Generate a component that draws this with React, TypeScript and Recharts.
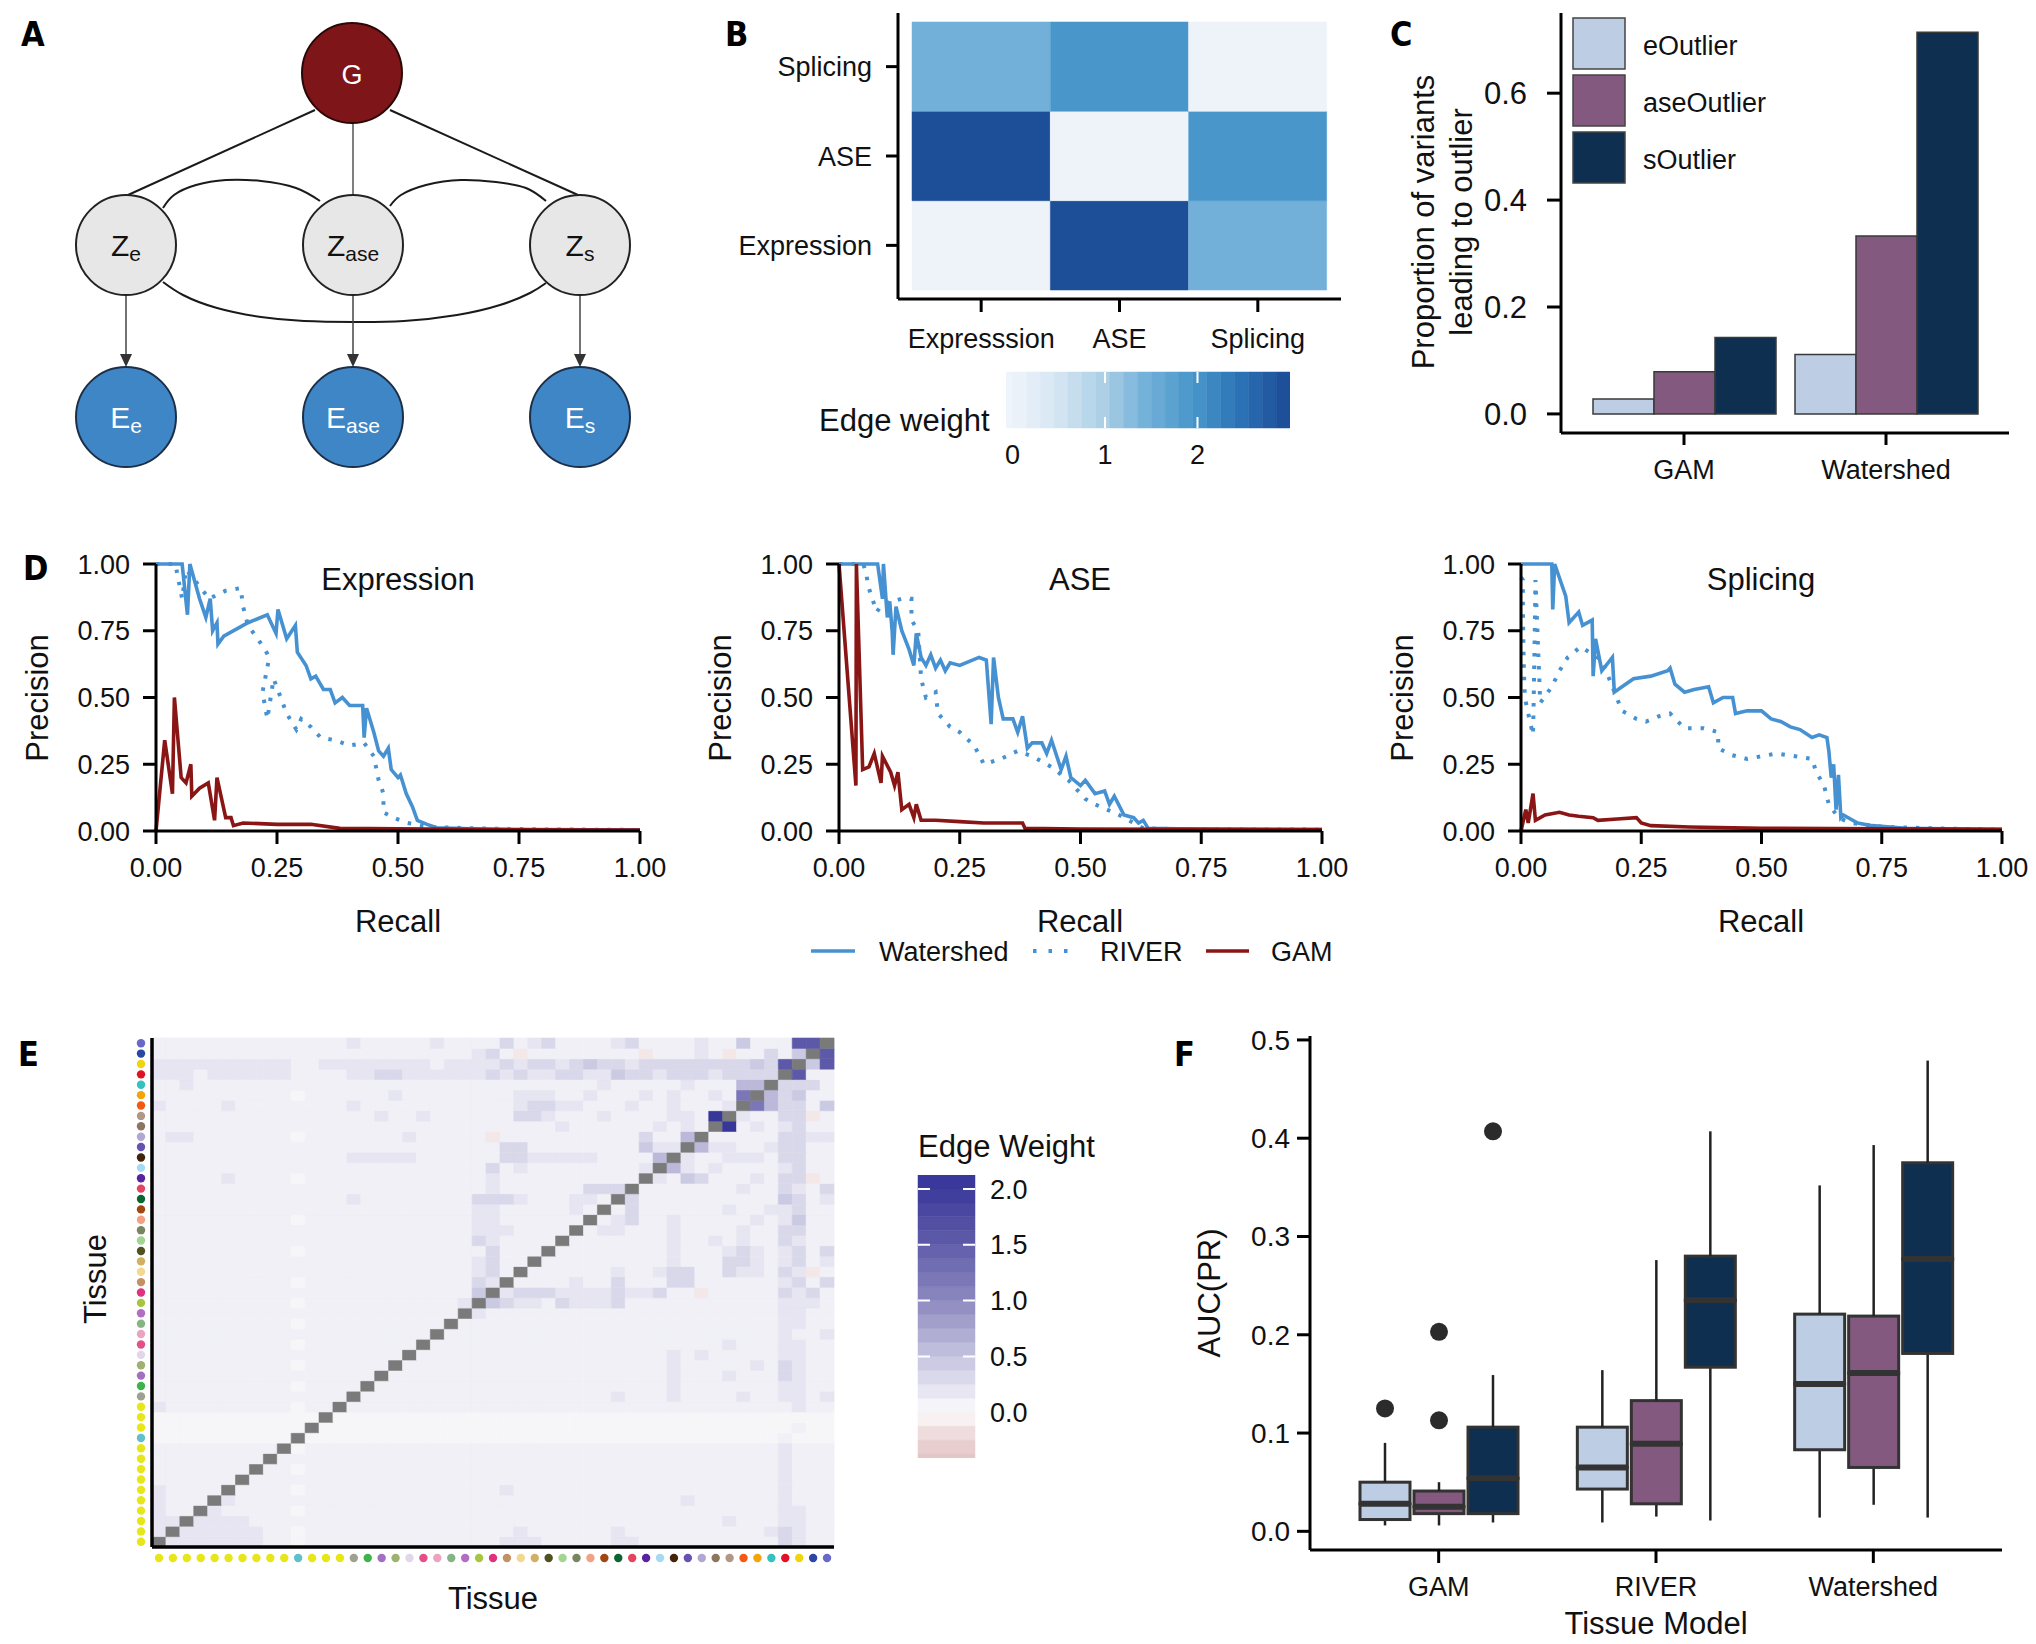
import React from 'react';
import {
  ComposedChart, LineChart, BarChart, Line, Bar, Cell, Scatter,
  XAxis, YAxis, ReferenceLine,
} from 'recharts';

const FONT = '"Liberation Sans", Arial, Helvetica, sans-serif';
const LETTER_FONT = '"Liberation Sans Narrow", "DejaVu Sans Condensed", "Liberation Sans", sans-serif';
const INK = '#111111';

type Pt = { x: number; y: number };

// ---------------- Panel A : graphical model ----------------
const graphNodes = [
  { x: 352, y: 73, main: 'G', sub: '', kind: 'g' },
  { x: 126, y: 245, main: 'Z', sub: 'e', kind: 'z' },
  { x: 353, y: 245, main: 'Z', sub: 'ase', kind: 'z' },
  { x: 580, y: 245, main: 'Z', sub: 's', kind: 'z' },
  { x: 126, y: 417, main: 'E', sub: 'e', kind: 'e' },
  { x: 353, y: 417, main: 'E', sub: 'ase', kind: 'e' },
  { x: 580, y: 417, main: 'E', sub: 's', kind: 'e' },
];
const nodeLooks: Record<string, { fill: string; stroke: string; text: string }> = {
  g: { fill: '#7e1518', stroke: '#2a0808', text: '#ffffff' },
  z: { fill: '#e7e7e7', stroke: '#222222', text: '#111111' },
  e: { fill: '#3f86c6', stroke: '#1d2f48', text: '#ffffff' },
};
const edgeGZe: Pt[] = [{ x: 315, y: 110 }, { x: 128, y: 195 }];
const edgeGZs: Pt[] = [{ x: 390, y: 110 }, { x: 578, y: 195 }];
const edgeGZase: Pt[] = [{ x: 353, y: 123 }, { x: 353, y: 195 }];
const arcZeZase: Pt[] = [
  { x: 163, y: 208 }, { x: 174, y: 195 }, { x: 196, y: 185 }, { x: 226, y: 180 },
  { x: 261, y: 181 }, { x: 296, y: 188 }, { x: 320, y: 201 },
];
const arcZaseZs: Pt[] = [
  { x: 390, y: 206 }, { x: 401, y: 195 }, { x: 426, y: 185 }, { x: 461, y: 180 },
  { x: 496, y: 182 }, { x: 526, y: 188 }, { x: 546, y: 201 },
];
const arcZeZs: Pt[] = [
  { x: 163, y: 282 }, { x: 183, y: 295 }, { x: 217, y: 308 }, { x: 261, y: 317 },
  { x: 304, y: 321 }, { x: 354, y: 322 }, { x: 404, y: 321 }, { x: 457, y: 315 },
  { x: 500, y: 305 }, { x: 530, y: 293 }, { x: 546, y: 283 },
];
const arrowShafts: Pt[][] = [
  [{ x: 126, y: 295 }, { x: 126, y: 356 }],
  [{ x: 353, y: 295 }, { x: 353, y: 356 }],
  [{ x: 580, y: 295 }, { x: 580, y: 356 }],
];
const arrowTips: Pt[] = [{ x: 126, y: 367 }, { x: 353, y: 367 }, { x: 580, y: 367 }];

const NodeShape = (p: any) => {
  const look = nodeLooks[p.payload.kind];
  const isG = p.payload.kind === 'g';
  return (
    <g>
      <circle cx={p.cx} cy={p.cy} r={50} fill={look.fill} stroke={look.stroke} strokeWidth={2} />
      <text x={p.cx} y={p.cy + 11} textAnchor="middle" fontFamily={FONT} fill={look.text}>
        <tspan fontSize={isG ? 27 : 30}>{p.payload.main}</tspan>
        {p.payload.sub ? <tspan fontSize={21} dy={5}>{p.payload.sub}</tspan> : null}
      </text>
    </g>
  );
};
const ArrowTip = (p: any) => (
  <polygon points={`${p.cx - 6},${p.cy - 13} ${p.cx + 6},${p.cy - 13} ${p.cx},${p.cy}`} fill="#333" />
);

function PanelA() {
  const lineProps = { dataKey: 'y', dot: false, activeDot: false, isAnimationActive: false } as any;
  return (
    <div style={{ position: 'absolute', left: 0, top: 0 }}>
      <ComposedChart width={680} height={480} margin={{ top: 0, right: 0, bottom: 0, left: 0 }}>
        <XAxis type="number" dataKey="x" domain={[0, 680]} hide width={0} height={0} />
        <YAxis type="number" dataKey="y" domain={[0, 480]} reversed hide width={0} />
        <Line {...lineProps} data={edgeGZe} stroke="#1a1a1a" strokeWidth={2} />
        <Line {...lineProps} data={edgeGZs} stroke="#1a1a1a" strokeWidth={2} />
        <Line {...lineProps} data={edgeGZase} stroke="#555" strokeWidth={1.5} />
        <Line {...lineProps} data={arcZeZase} type="natural" stroke="#1a1a1a" strokeWidth={2} />
        <Line {...lineProps} data={arcZaseZs} type="natural" stroke="#1a1a1a" strokeWidth={2} />
        <Line {...lineProps} data={arcZeZs} type="natural" stroke="#1a1a1a" strokeWidth={2} />
        {arrowShafts.map((s, i) => (
          <Line key={i} {...lineProps} data={s} stroke="#444" strokeWidth={1.5} />
        ))}
        <Scatter data={arrowTips} dataKey="y" shape={(p: any) => <ArrowTip {...p} />} isAnimationActive={false} />
        <Scatter data={graphNodes} dataKey="y" shape={(p: any) => <NodeShape {...p} />} isAnimationActive={false} />
      </ComposedChart>
    </div>
  );
}

// ---------------- colour helpers ----------------
function hexRgb(h: string) {
  return [parseInt(h.slice(1, 3), 16), parseInt(h.slice(3, 5), 16), parseInt(h.slice(5, 7), 16)];
}
function rampColor(stops: [number, string][], v: number) {
  if (v <= stops[0][0]) return stops[0][1];
  for (let i = 1; i < stops.length; i++) {
    if (v <= stops[i][0]) {
      const [a, ca] = stops[i - 1];
      const [b, cb] = stops[i];
      const t = (v - a) / (b - a);
      const A = hexRgb(ca), B = hexRgb(cb);
      const c = A.map((x, k) => Math.round(x + (B[k] - x) * t));
      return `rgb(${c[0]},${c[1]},${c[2]})`;
    }
  }
  return stops[stops.length - 1][1];
}

// colour-bar bins: [from, to] pairs on each side of zero
function legendBins(lo: number, hi: number, step: number) {
  const neg: number[][] = [];
  for (let a = 0; a > lo + 1e-9; a -= step) neg.push([a, Math.max(a - step, lo)]);
  const pos: number[][] = [];
  for (let a = 0; a < hi - 1e-9; a += step) pos.push([a, Math.min(a + step, hi)]);
  return { neg, pos };
}

// ---------------- Panel B : edge weight heatmap ----------------
const bCols = ['Expresssion', 'ASE', 'Splicing'];
const bRows = ['Expression', 'ASE', 'Splicing'];
const bWeights = [
  [0, 2.95, 1.45],
  [2.95, 0, 1.95],
  [1.45, 1.95, 0],
];
const bluesStops: [number, string][] = [
  [-0.1, '#f0f5fb'], [0, '#eef3fa'], [0.5, '#d4e5f3'], [1, '#abcfe6'], [1.45, '#72b0d9'],
  [2, '#4594c8'], [2.5, '#2a6fb4'], [3, '#1b4b94'],
];
const bLegendRange: [number, number] = [-0.07, 3.0];
const bLegendTicks = [0, 1, 2];

function PanelB() {
  const data = bCols.map((c) => ({ col: c, r0: 1, r1: 1, r2: 1 }));
  return (
    <div style={{ position: 'absolute', left: 700, top: 0 }}>
      <BarChart width={660} height={360} data={data} margin={{ top: 13, right: 19, bottom: 0, left: 0 }}
        barCategoryGap={0} barGap={0}>
        <XAxis dataKey="col" type="category" height={61} padding={{ left: 14, right: 14 }}
          axisLine={{ stroke: '#000', strokeWidth: 3 }} tickLine={{ stroke: '#000', strokeWidth: 3 }}
          tickSize={13} tickMargin={17} tick={{ fontSize: 27, fill: INK, fontFamily: FONT }} interval={0} />
        <YAxis type="number" domain={[-0.1, 3.1]} ticks={[0.5, 1.5, 2.5]} width={198}
          tickFormatter={(v: number) => bRows[Math.floor(v)]}
          axisLine={{ stroke: '#000', strokeWidth: 3 }} tickLine={{ stroke: '#000', strokeWidth: 3 }}
          tickSize={12} tickMargin={14} tick={{ fontSize: 27, fill: INK, fontFamily: FONT }} interval={0} />
        {[0, 1, 2].map((ri) => (
          <Bar key={ri} dataKey={'r' + ri} stackId="b" isAnimationActive={false}>
            {bCols.map((_, ci) => {
              const f = rampColor(bluesStops, bWeights[ri][ci]);
              return <Cell key={ci} fill={f} stroke={f} strokeWidth={0.5} />;
            })}
          </Bar>
        ))}
      </BarChart>
    </div>
  );
}

function PanelBLegend() {
  const { neg, pos } = legendBins(bLegendRange[0], bLegendRange[1], 0.15);
  const row: any = { k: 'bar' };
  neg.forEach(([a, b], i) => { row['n' + i] = b - a; });
  pos.forEach(([a, b], i) => { row['p' + i] = b - a; });
  return (
    <div style={{ position: 'absolute', left: 990, top: 340 }}>
      <BarChart layout="vertical" width={320} height={140} data={[row]} stackOffset="sign"
        margin={{ top: 32, right: 20, bottom: 0, left: 16 }} barCategoryGap={0}>
        <XAxis type="number" domain={bLegendRange} ticks={bLegendTicks} height={52} allowDataOverflow
          axisLine={false} tickLine={false} tickSize={0} tickMargin={17}
          tick={{ fontSize: 27, fill: INK, fontFamily: FONT }} interval={0} />
        <YAxis type="category" dataKey="k" hide width={0} />
        {neg.map(([a, b], i) => {
          const f = rampColor(bluesStops, (a + b) / 2);
          return <Bar key={'n' + i} dataKey={'n' + i} stackId="c" fill={f} stroke={f} strokeWidth={0.5} isAnimationActive={false} />;
        })}
        {pos.map(([a, b], i) => {
          const f = rampColor(bluesStops, (a + b) / 2);
          return <Bar key={'p' + i} dataKey={'p' + i} stackId="c" fill={f} stroke={f} strokeWidth={0.5} isAnimationActive={false} />;
        })}
        {[1, 2].map((t) => (
          <ReferenceLine key={t} x={t} stroke="#fff" strokeWidth={2} strokeDasharray="11 34 11" />
        ))}
      </BarChart>
    </div>
  );
}

// ---------------- Panel C : proportion of variants ----------------
const cModels = ['GAM', 'Watershed'];
const cEOutlier = [0.028, 0.111];
const cAseOutlier = [0.079, 0.333];
const cSOutlier = [0.143, 0.714];
const outlierColors = { e: '#bdcde3', ase: '#83597f', s: '#0e2f50' };

function PanelC() {
  const data = cModels.map((m, i) => ({ m, e: cEOutlier[i], ase: cAseOutlier[i], s: cSOutlier[i] }));
  return (
    <div style={{ position: 'absolute', left: 1360, top: 0 }}>
      <BarChart width={676} height={500} data={data} margin={{ top: 13, right: 27, bottom: 0, left: 0 }}
        barSize={61} barGap={0}>
        <XAxis dataKey="m" type="category" height={67} padding={{ left: 22, right: 22 }}
          axisLine={{ stroke: '#000', strokeWidth: 3 }} tickLine={{ stroke: '#000', strokeWidth: 3 }}
          tickSize={12} tickMargin={15} tick={{ fontSize: 27, fill: INK, fontFamily: FONT }} interval={0} />
        <YAxis type="number" domain={[-0.0357, 0.75]} ticks={[0, 0.2, 0.4, 0.6]} width={201}
          tickFormatter={(v: number) => v.toFixed(1)} allowDataOverflow
          axisLine={{ stroke: '#000', strokeWidth: 3 }} tickLine={{ stroke: '#000', strokeWidth: 3 }}
          tickSize={14} tickMargin={20} tick={{ fontSize: 31, fill: INK, fontFamily: FONT }} interval={0} />
        <Bar dataKey="e" fill={outlierColors.e} stroke="#3a3a3a" strokeWidth={1.5} isAnimationActive={false} />
        <Bar dataKey="ase" fill={outlierColors.ase} stroke="#3a3a3a" strokeWidth={1.5} isAnimationActive={false} />
        <Bar dataKey="s" fill={outlierColors.s} stroke="#3a3a3a" strokeWidth={1.5} isAnimationActive={false} />
      </BarChart>
    </div>
  );
}

// ---------------- Panel D : precision-recall curves ----------------
const exprWatershed = [[0,1],[0.054,1],[0.065,0.81],[0.07,1],[0.09,0.87],[0.103,0.8],[0.112,0.87],[0.117,0.75],[0.126,0.78],[0.128,0.7],[0.14,0.73],[0.19,0.78],[0.23,0.81],[0.248,0.74],[0.252,0.83],[0.27,0.72],[0.288,0.77],[0.292,0.67],[0.31,0.62],[0.32,0.57],[0.33,0.58],[0.346,0.53],[0.36,0.53],[0.37,0.48],[0.385,0.5],[0.4,0.47],[0.427,0.47],[0.43,0.35],[0.435,0.46],[0.45,0.37],[0.46,0.3],[0.47,0.28],[0.48,0.31],[0.486,0.23],[0.5,0.2],[0.505,0.21],[0.517,0.14],[0.53,0.09],[0.54,0.04],[0.56,0.025],[0.58,0.012],[0.65,0.008],[0.8,0.005],[1,0.004]];
const exprRiver = [[0,1],[0.04,1],[0.054,0.87],[0.062,0.98],[0.11,0.87],[0.144,0.9],[0.175,0.91],[0.18,0.84],[0.19,0.77],[0.21,0.72],[0.225,0.68],[0.234,0.65],[0.22,0.52],[0.23,0.42],[0.243,0.57],[0.27,0.44],[0.29,0.38],[0.3,0.42],[0.32,0.39],[0.34,0.35],[0.37,0.34],[0.4,0.32],[0.43,0.33],[0.45,0.28],[0.46,0.19],[0.47,0.14],[0.47,0.07],[0.49,0.05],[0.52,0.03],[0.56,0.016],[0.65,0.01],[0.8,0.006],[1,0.004]];
const exprGam = [[0,0],[0.018,0.34],[0.034,0.14],[0.038,0.5],[0.052,0.2],[0.062,0.18],[0.072,0.25],[0.074,0.13],[0.09,0.16],[0.108,0.18],[0.121,0.04],[0.126,0.2],[0.144,0.05],[0.155,0.05],[0.16,0.02],[0.18,0.03],[0.25,0.025],[0.32,0.025],[0.38,0.01],[0.5,0.008],[0.7,0.005],[1,0.004]];

const aseWatershed = [[0,1],[0.08,1],[0.09,0.87],[0.092,1],[0.1,0.8],[0.105,0.86],[0.11,0.75],[0.112,0.66],[0.118,0.84],[0.13,0.75],[0.145,0.68],[0.155,0.62],[0.16,0.74],[0.17,0.65],[0.18,0.62],[0.19,0.66],[0.2,0.61],[0.21,0.64],[0.22,0.6],[0.23,0.63],[0.25,0.62],[0.29,0.65],[0.305,0.64],[0.315,0.4],[0.32,0.65],[0.33,0.5],[0.34,0.42],[0.36,0.42],[0.37,0.37],[0.38,0.43],[0.39,0.31],[0.4,0.33],[0.42,0.33],[0.43,0.29],[0.44,0.34],[0.46,0.23],[0.47,0.28],[0.48,0.2],[0.5,0.17],[0.51,0.19],[0.53,0.14],[0.55,0.15],[0.56,0.1],[0.57,0.13],[0.59,0.06],[0.61,0.05],[0.62,0.03],[0.63,0.04],[0.64,0.01],[0.7,0.008],[1,0.005]];
const aseRiver = [[0,1],[0.05,1],[0.056,0.97],[0.06,0.92],[0.078,0.82],[0.09,0.85],[0.13,0.87],[0.15,0.87],[0.15,0.79],[0.164,0.75],[0.17,0.57],[0.18,0.5],[0.2,0.52],[0.205,0.44],[0.23,0.39],[0.25,0.37],[0.28,0.32],[0.3,0.25],[0.335,0.27],[0.37,0.3],[0.4,0.28],[0.44,0.24],[0.475,0.19],[0.51,0.12],[0.53,0.1],[0.58,0.06],[0.61,0.03],[0.63,0.01],[0.7,0.007],[1,0.005]];
const aseGam = [[0,1],[0.035,0.17],[0.036,1],[0.049,0.23],[0.062,0.24],[0.073,0.29],[0.087,0.18],[0.09,0.28],[0.107,0.22],[0.115,0.17],[0.122,0.22],[0.13,0.08],[0.145,0.1],[0.155,0.05],[0.16,0.1],[0.17,0.04],[0.2,0.04],[0.25,0.035],[0.3,0.03],[0.38,0.03],[0.385,0.01],[0.5,0.007],[1,0.005]];

const splWatershed = [[0,1],[0.064,1],[0.066,0.83],[0.07,1],[0.093,0.88],[0.1,0.78],[0.12,0.82],[0.128,0.77],[0.148,0.79],[0.15,0.58],[0.155,0.72],[0.168,0.6],[0.19,0.65],[0.194,0.52],[0.21,0.54],[0.234,0.57],[0.27,0.58],[0.305,0.6],[0.31,0.61],[0.32,0.55],[0.34,0.52],[0.36,0.53],[0.39,0.54],[0.4,0.48],[0.42,0.5],[0.44,0.5],[0.446,0.44],[0.47,0.45],[0.5,0.45],[0.52,0.42],[0.54,0.41],[0.56,0.39],[0.58,0.38],[0.605,0.35],[0.62,0.36],[0.636,0.35],[0.64,0.3],[0.645,0.2],[0.65,0.25],[0.655,0.08],[0.66,0.21],[0.665,0.05],[0.67,0.06],[0.7,0.03],[0.73,0.02],[0.8,0.01],[1,0.005]];
const splRiver = [[0,0.95],[0.004,0.94],[0.004,0.82],[0.005,0.7],[0.006,0.6],[0.008,0.5],[0.015,0.44],[0.025,0.36],[0.026,0.45],[0.027,0.56],[0.028,0.68],[0.029,0.8],[0.03,0.94],[0.04,0.48],[0.064,0.54],[0.08,0.6],[0.097,0.65],[0.124,0.69],[0.168,0.64],[0.19,0.54],[0.21,0.45],[0.24,0.42],[0.26,0.41],[0.287,0.43],[0.31,0.44],[0.34,0.385],[0.38,0.385],[0.41,0.37],[0.41,0.31],[0.437,0.285],[0.47,0.27],[0.5,0.28],[0.53,0.29],[0.57,0.28],[0.605,0.27],[0.614,0.22],[0.63,0.17],[0.64,0.1],[0.66,0.05],[0.685,0.03],[0.75,0.016],[0.85,0.01],[1,0.005]];
const splGam = [[0,0],[0.01,0.08],[0.015,0.03],[0.025,0.14],[0.03,0.04],[0.05,0.06],[0.08,0.07],[0.1,0.06],[0.12,0.055],[0.15,0.05],[0.16,0.04],[0.2,0.045],[0.24,0.05],[0.25,0.03],[0.27,0.02],[0.35,0.015],[0.5,0.01],[0.75,0.008],[1,0.006]];

const prTicks = [0, 0.25, 0.5, 0.75, 1];
const WATERSHED_BLUE = '#4691d2';
const GAM_RED = '#8a1515';

function toPts(a: number[][]) { return a.map(([r, p]) => ({ r, p })); }

function PRPanel(props: { left: number; width: number; right: number; w: number[][]; rv: number[][]; g: number[][] }) {
  const ax = { stroke: '#000', strokeWidth: 3 };
  return (
    <div style={{ position: 'absolute', left: props.left, top: 540 }}>
      <LineChart width={props.width} height={460} margin={{ top: 24, right: props.right, bottom: 0, left: 0 }}>
        <XAxis type="number" dataKey="r" domain={[0, 1]} ticks={prTicks} height={169}
          tickFormatter={(v: number) => v.toFixed(2)} axisLine={ax} tickLine={ax} tickSize={13} tickMargin={14}
          tick={{ fontSize: 27, fill: INK, fontFamily: FONT }} interval={0} />
        <YAxis type="number" domain={[0, 1]} ticks={prTicks} width={156}
          tickFormatter={(v: number) => v.toFixed(2)} axisLine={ax} tickLine={ax} tickSize={13} tickMargin={13}
          tick={{ fontSize: 27, fill: INK, fontFamily: FONT }} interval={0} />
        <Line data={toPts(props.w)} dataKey="p" stroke={WATERSHED_BLUE} strokeWidth={3.6} dot={false} activeDot={false} isAnimationActive={false} />
        <Line data={toPts(props.rv)} dataKey="p" stroke={WATERSHED_BLUE} strokeWidth={4} strokeDasharray="3.5 9" dot={false} activeDot={false} isAnimationActive={false} />
        <Line data={toPts(props.g)} dataKey="p" stroke={GAM_RED} strokeWidth={3.6} dot={false} activeDot={false} isAnimationActive={false} />
      </LineChart>
    </div>
  );
}

// ---------------- Panel E : tissue edge weights ----------------
const tissueColors = [
  '#e6e619', '#e6e619', '#e6e619', '#e6e619', '#e6e619', '#e6e619', '#e6e619', '#e6e619', '#e6e619', '#e6e619',
  '#5fc0cc', '#e6e619', '#e6e619', '#e6e619', '#a0a090', '#3cb44b', '#a36fc0', '#9fb070', '#e2d6ea', '#e2508a',
  '#eba3c2', '#86b484', '#b26ec2', '#a6c640', '#e0307e', '#c39264', '#f2d98f', '#d2b063', '#4f5220', '#a4d492',
  '#778660', '#f2a283', '#a14612', '#0b6530', '#e3445f', '#5a22a0', '#a6daf2', '#43230a', '#6652b2', '#b2a6d2',
  '#8c7660', '#b09888', '#f25a14', '#f2a40a', '#33c2bf', '#e01226', '#f0d40c', '#2a47a3', '#6868c8',
];
// upper-left triangle, rows 49 (top) .. 2, columns 1..row-1
const edgeUpperRows = [
  '11111111111111' + '2111112111' + '131231111231111211411188',
  '11111111111111' + '1111111112' + '31n11111111n11121n11314',
  '22222222221122' + '2222221222' + '2323323433233333333438',
  '22212222221111' + '2233222222' + '323223322433233323333',
  '11211111111111' + '1111111111' + '11111111211111211155',
  '11111111110111' + '1112111111' + '1122211211121211217',
  '21111211111111' + '2111111111' + '112332211121121112',
  '11111111111111' + '1121121111' + '11332111211112219',
  '11111111111111' + '1111111111' + '1111121111112121',
  '12211111110111' + '1111211111' + 'n11111111113115',
  '11111111111111' + '1111111111' + '13311111111422',
  '11111111111111' + '2222211111' + '1332222211115',
  '11111111111111' + '1111111111' + '312111111112',
  '11111211110111' + '1111111111' + '21111111111',
  '11111111111111' + '1111111111' + '2111111333',
  '11111111111111' + '2111111113' + '332111221',
  '11111111111111' + '1111111112' + '21111121',
  '11111111110111' + '1111111112' + '2111111',
  '11111111111111' + '1111111112' + '221111',
  '11111111111111' + '1111111113' + '21111',
  '11111111110111' + '1111111111' + '3111',
  '11111111111111' + '1111111112' + '311',
  '11111111111111' + '1111111112' + '31',
  '11111111110111' + '1111111113' + '2',
  '11111111111111' + '1111111114',
  '11111111110111' + '111111112',
  '11111111111111' + '11111111',
  '11111111110111' + '1111111',
  '11111111111111' + '111111',
  '11111111110111' + '11111',
  '11111111111111' + '1111',
  '11111111110111' + '111',
  '11111111111111' + '11',
  '11111111110111' + '1',
  '11111111111111',
  '2111111111011',
  '000000000000',
  '00000000000',
  '0000000000',
  '111111111',
  '11111111',
  '1111111',
  '111111',
  '21111',
  '2111',
  '211',
  '22',
  '2',
];
// lower-right triangle for rows 1..14, columns row+1..49
const edgeLowerRows = [
  '222222211' + '011' + '111111111111' + '222' + '11111' + '22' + '1111111111' + '32' + '11',
  '22222211' + '011' + '111111111111' + '121' + '11111' + '21' + '1111111112' + '32' + '11',
  '2222111' + '111' + '111111111111' + '111' + '11111' + '11' + '1111112111' + '22' + '11',
  '211111' + '011' + '111111111111' + '111' + '11111' + '11' + '1111111111' + '22' + '11',
  '21111' + '111' + '111111111111' + '111' + '11111' + '11' + '1112111111' + '21' + '11',
  '1111' + '011' + '111111111111' + '211' + '11111' + '11' + '1111111111' + '21' + '11',
  '111' + '111' + '111111111111' + '111' + '11111' + '11' + '1111111111' + '21' + '11',
  '11' + '011' + '111111111111' + '111' + '11111' + '11' + '1111111111' + '21' + '11',
  '1' + '111' + '111111111111' + '111' + '11111' + '11' + '1111111111' + '21' + '11',
  '011' + '111111111111' + '111' + '11111' + '11' + '1111111111' + '21' + '11',
  '00000000000000000000000000000000001000',
  '0000000000000000000000000000000000100',
  '000000000000000000000000000000000000',
  '11111111111111111111111111111111211',
];
const edgeLevels: Record<string, number> = {
  n: -0.12, '0': 0.05, '1': 0.1, '2': 0.2, '3': 0.32, '4': 0.45, '5': 0.6, '6': 0.85, '7': 1.2, '8': 1.55, '9': 2.1,
};
const edgeStops: [number, string][] = [
  [-0.41, '#e3c4c4'], [-0.2, '#eedada'], [0, '#fbfbfc'], [0.5, '#c6c4e0'],
  [1, '#8d89bf'], [1.5, '#605caa'], [2, '#3d3b9b'], [2.125, '#36369a'],
];
const edgeLegendRange: [number, number] = [-0.41, 2.125];
const edgeLegendTicks = [0, 0.5, 1, 1.5, 2];
const N_TISSUE = 49;

function edgeWeight(r: number, c: number): number | null {
  if (r === c) return null;
  if (c < r) return edgeLevels[edgeUpperRows[N_TISSUE - r][c - 1]];
  if (r <= edgeLowerRows.length) return edgeLevels[edgeLowerRows[r - 1][c - r - 1]];
  return edgeLevels[edgeUpperRows[N_TISSUE - c][r - 1]];
}

const TissueDotX = (p: any) => (
  <circle cx={p.x} cy={p.y + 11} r={4.2} fill={tissueColors[p.payload.value - 1]} />
);
const TissueDotY = (p: any) => (
  <circle cx={p.x - 11} cy={p.y} r={4.2} fill={tissueColors[Math.round(p.payload.value + 0.5) - 1]} />
);

function PanelE() {
  const idx = Array.from({ length: N_TISSUE }, (_, i) => i + 1);
  const data = idx.map((c) => {
    const row: any = { t: c };
    idx.forEach((r) => { row['r' + r] = 1; });
    return row;
  });
  const yTicks = idx.map((r) => r - 0.5);
  return (
    <div style={{ position: 'absolute', left: 0, top: 1000 }}>
      <BarChart width={900} height={644} data={data} margin={{ top: 38, right: 66, bottom: 0, left: 0 }}
        barCategoryGap={0} barGap={0}>
        <XAxis dataKey="t" type="category" height={97} axisLine={{ stroke: '#000', strokeWidth: 3.5 }}
          tickLine={false} tickSize={0} tickMargin={0} tick={(p: any) => <TissueDotX {...p} />} interval={0} />
        <YAxis type="number" domain={[0, N_TISSUE]} ticks={yTicks} width={152}
          axisLine={{ stroke: '#000', strokeWidth: 3.5 }} tickLine={false} tickSize={0} tickMargin={0}
          tick={(p: any) => <TissueDotY {...p} />} interval={0} />
        {idx.map((r) => (
          <Bar key={r} dataKey={'r' + r} stackId="h" isAnimationActive={false}>
            {idx.map((c) => {
              const w = edgeWeight(r, c);
              const f = w === null ? '#7a7a7a' : rampColor(edgeStops, w);
              return <Cell key={c} fill={f} stroke={f} strokeWidth={0.6} />;
            })}
          </Bar>
        ))}
      </BarChart>
    </div>
  );
}

function PanelELegend() {
  const { neg, pos } = legendBins(edgeLegendRange[0], edgeLegendRange[1], 0.125);
  const row: any = { k: 'bar' };
  neg.forEach(([a, b], i) => { row['n' + i] = b - a; });
  pos.forEach(([a, b], i) => { row['p' + i] = b - a; });
  return (
    <div style={{ position: 'absolute', left: 900, top: 1150 }}>
      <BarChart width={200} height={330} data={[row]} stackOffset="sign"
        margin={{ top: 25, right: 0, bottom: 22, left: 18 }} barCategoryGap={0}>
        <XAxis type="category" dataKey="k" hide height={0} />
        <YAxis type="number" orientation="right" domain={edgeLegendRange} ticks={edgeLegendTicks} width={125}
          tickFormatter={(v: number) => v.toFixed(1)} axisLine={false} tickLine={false} tickSize={0} tickMargin={15}
          tick={{ fontSize: 27, fill: INK, fontFamily: FONT }} interval={0} allowDataOverflow />
        {neg.map(([a, b], i) => {
          const f = rampColor(edgeStops, (a + b) / 2);
          return <Bar key={'n' + i} dataKey={'n' + i} stackId="c" fill={f} stroke={f} strokeWidth={0.5} isAnimationActive={false} />;
        })}
        {pos.map(([a, b], i) => {
          const f = rampColor(edgeStops, (a + b) / 2);
          return <Bar key={'p' + i} dataKey={'p' + i} stackId="c" fill={f} stroke={f} strokeWidth={0.5} isAnimationActive={false} />;
        })}
        {[0.5, 1, 1.5, 2].map((t) => (
          <ReferenceLine key={t} y={t} stroke="#fff" strokeWidth={2} strokeDasharray="12 33 12" />
        ))}
      </BarChart>
    </div>
  );
}

// ---------------- Panel F : AUC(PR) box plots ----------------
const fModels = ['GAM', 'RIVER', 'Watershed'];
// [min, q1, median, q3, max]
const fEOutlier = [[0.006, 0.012, 0.028, 0.05, 0.09], [0.009, 0.043, 0.065, 0.106, 0.164], [0.014, 0.083, 0.15, 0.221, 0.352]];
const fAseOutlier = [[0.006, 0.018, 0.025, 0.041, 0.05], [0.015, 0.028, 0.089, 0.133, 0.276], [0.027, 0.065, 0.161, 0.219, 0.393]];
const fSOutlier = [[0.009, 0.018, 0.054, 0.106, 0.159], [0.011, 0.167, 0.235, 0.28, 0.407], [0.014, 0.181, 0.277, 0.375, 0.479]];
const fEPoints = [[0.125], [], []];
const fAsePoints = [[0.113, 0.203], [], []];
const fSPoints = [[0.407], [], []];

const boxSeries = [
  { key: 'e', stats: fEOutlier, outs: fEPoints, fill: outlierColors.e },
  { key: 'ase', stats: fAseOutlier, outs: fAsePoints, fill: outlierColors.ase },
  { key: 's', stats: fSOutlier, outs: fSPoints, fill: outlierColors.s },
];

const Empty = () => <g />;
const LowWhisker = (p: any) => {
  const cx = p.x + p.width / 2;
  return <line x1={cx} x2={cx} y1={p.y} y2={p.y + p.height} stroke="#222" strokeWidth={2.5} />;
};
const makeLowBox = (fill: string) => (p: any) => (
  <rect x={p.x} y={p.y} width={p.width} height={p.height} fill={fill} stroke="#333" strokeWidth={3} />
);
const makeHighBox = (fill: string) => (p: any) => (
  <g>
    <rect x={p.x} y={p.y} width={p.width} height={p.height} fill={fill} stroke="#333" strokeWidth={3} />
    <line x1={p.x} x2={p.x + p.width} y1={p.y + p.height} y2={p.y + p.height} stroke="#333" strokeWidth={6} />
  </g>
);
const makeHighWhisker = (key: string) => (p: any) => {
  const cx = p.x + p.width / 2;
  const st: number[] = p.payload[key + 'Stats'];
  const outs: number[] = p.payload[key + 'Out'];
  const span = st[4] - st[3];
  const ppu = span > 0 ? p.height / span : 0;
  return (
    <g>
      <line x1={cx} x2={cx} y1={p.y} y2={p.y + p.height} stroke="#222" strokeWidth={2.5} />
      {outs.map((o, i) => (
        <circle key={i} cx={cx} cy={p.y - (o - st[4]) * ppu} r={9} fill="#2b2b2b" />
      ))}
    </g>
  );
};

function PanelF() {
  const data = fModels.map((m, i) => {
    const row: any = { m };
    boxSeries.forEach(({ key, stats, outs }) => {
      const [mn, q1, md, q3, mx] = stats[i];
      row[key + '0'] = mn;
      row[key + '1'] = q1 - mn;
      row[key + '2'] = md - q1;
      row[key + '3'] = q3 - md;
      row[key + '4'] = mx - q3;
      row[key + 'Stats'] = stats[i];
      row[key + 'Out'] = outs[i];
    });
    return row;
  });
  const ax = { stroke: '#000', strokeWidth: 3 };
  return (
    <div style={{ position: 'absolute', left: 1160, top: 1000 }}>
      <ComposedChart width={876} height={644} data={data} margin={{ top: 36, right: 34, bottom: 0, left: 0 }}
        barSize={50} barGap={4}>
        <XAxis dataKey="m" type="category" height={94} padding={{ left: 20, right: 20 }}
          axisLine={ax} tickLine={ax} tickSize={13} tickMargin={14}
          tick={{ fontSize: 27, fill: INK, fontFamily: FONT }} interval={0} />
        <YAxis type="number" domain={[-0.019, 0.504]} ticks={[0, 0.1, 0.2, 0.3, 0.4, 0.5]} width={150}
          tickFormatter={(v: number) => v.toFixed(1)} allowDataOverflow axisLine={ax} tickLine={ax}
          tickSize={13} tickMargin={7} tick={{ fontSize: 28, fill: INK, fontFamily: FONT }} interval={0} />
        {boxSeries.flatMap(({ key, fill }) => [
          <Bar key={key + '0'} dataKey={key + '0'} stackId={key} shape={(p: any) => <Empty {...p} />} isAnimationActive={false} />,
          <Bar key={key + '1'} dataKey={key + '1'} stackId={key} shape={(p: any) => <LowWhisker {...p} />} isAnimationActive={false} />,
          <Bar key={key + '2'} dataKey={key + '2'} stackId={key} shape={makeLowBox(fill)} isAnimationActive={false} />,
          <Bar key={key + '3'} dataKey={key + '3'} stackId={key} shape={makeHighBox(fill)} isAnimationActive={false} />,
          <Bar key={key + '4'} dataKey={key + '4'} stackId={key} shape={makeHighWhisker(key)} isAnimationActive={false} />,
        ])}
      </ComposedChart>
    </div>
  );
}

// ---------------- free text (titles, legends, panel letters) ----------------
function Overlay() {
  const letter = { fontFamily: LETTER_FONT, fontWeight: 700, fontSize: 34, fill: '#000' } as any;
  const title = { fontFamily: FONT, fontSize: 31, fill: INK } as any;
  const small = { fontFamily: FONT, fontSize: 27, fill: INK } as any;
  const legendBoxes = [
    { y: 18, fill: outlierColors.e, label: 'eOutlier' },
    { y: 75, fill: outlierColors.ase, label: 'aseOutlier' },
    { y: 132, fill: outlierColors.s, label: 'sOutlier' },
  ];
  const prTitles = [{ x: 398, t: 'Expression' }, { x: 1080, t: 'ASE' }, { x: 1761, t: 'Splicing' }];
  const precX = [48, 731, 1413];
  return (
    <svg width={2036} height={1644} style={{ position: 'absolute', left: 0, top: 0, pointerEvents: 'none' }}>
      <text x={21} y={46} {...letter}>A</text>
      <text x={725} y={46} {...letter}>B</text>
      <text x={1390} y={46} {...letter}>C</text>
      <text x={23} y={580} {...letter}>D</text>
      <text x={18} y={1066} {...letter}>E</text>
      <text x={1174} y={1066} {...letter}>F</text>

      <text x={819} y={431} {...title}>Edge weight</text>

      {legendBoxes.map((b) => (
        <g key={b.label}>
          <rect x={1573} y={b.y} width={52} height={51} fill={b.fill} stroke="#444" strokeWidth={1.5} />
          <text x={1643} y={b.y + 37} {...small}>{b.label}</text>
        </g>
      ))}
      <text transform="translate(1434,222) rotate(-90)" textAnchor="middle" {...title}>Proportion of variants</text>
      <text transform="translate(1472,222) rotate(-90)" textAnchor="middle" {...title}>leading to outlier</text>

      {prTitles.map((p) => (
        <g key={p.t}>
          <text x={p.x} y={590} textAnchor="middle" {...title}>{p.t}</text>
          <text x={p.x} y={932} textAnchor="middle" {...title}>Recall</text>
        </g>
      ))}
      {precX.map((x) => (
        <text key={x} transform={`translate(${x},698) rotate(-90)`} textAnchor="middle" {...title}>Precision</text>
      ))}
      <line x1={811} x2={855} y1={951} y2={951} stroke={WATERSHED_BLUE} strokeWidth={3.6} />
      <text x={879} y={961} {...small}>Watershed</text>
      <line x1={1033} x2={1072} y1={951} y2={951} stroke={WATERSHED_BLUE} strokeWidth={4} strokeDasharray="3.5 12" />
      <text x={1100} y={961} {...small}>RIVER</text>
      <line x1={1206} x2={1249} y1={951} y2={951} stroke={GAM_RED} strokeWidth={3.6} />
      <text x={1271} y={961} {...small}>GAM</text>

      <text x={493} y={1609} textAnchor="middle" {...title}>Tissue</text>
      <text transform="translate(106,1279) rotate(-90)" textAnchor="middle" {...title}>Tissue</text>
      <text x={918} y={1157} {...title}>Edge Weight</text>

      <text transform="translate(1220,1293) rotate(-90)" textAnchor="middle" {...title}>AUC(PR)</text>
      <text x={1656} y={1634} textAnchor="middle" {...title}>Tissue Model</text>
    </svg>
  );
}

export default function App() {
  return (
    <div style={{ position: 'absolute', left: 0, top: 0, width: 2036, height: 1644, background: '#fff', overflow: 'hidden', fontFamily: FONT }}>
      <PanelA />
      <PanelB />
      <PanelBLegend />
      <PanelC />
      <PRPanel left={0} width={680} right={40} w={exprWatershed} rv={exprRiver} g={exprGam} />
      <PRPanel left={683} width={680} right={41} w={aseWatershed} rv={aseRiver} g={aseGam} />
      <PRPanel left={1365} width={671} right={34} w={splWatershed} rv={splRiver} g={splGam} />
      <PanelE />
      <PanelELegend />
      <PanelF />
      <Overlay />
    </div>
  );
}
